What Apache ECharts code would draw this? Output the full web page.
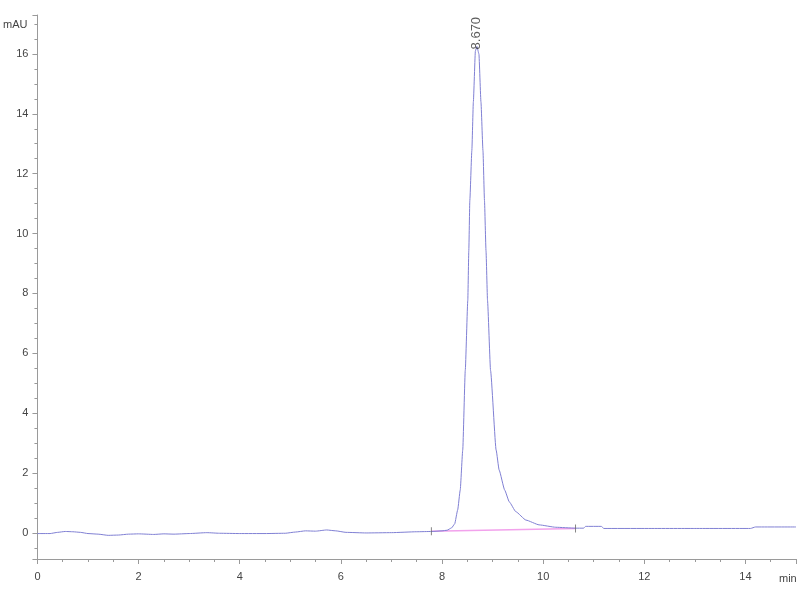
<!DOCTYPE html>
<html>
<head>
<meta charset="utf-8">
<script src="https://cdn.jsdelivr.net/npm/echarts@6/dist/echarts.min.js"></script>
<style>html,body{margin:0;padding:0;background:#fff}#c{width:800px;height:600px}</style>
</head>
<body>
<div id="c"></div>
<script>
// Chromatogram signal (time in min, absorbance in mAU)
var times = [0, 0.25, 0.4, 0.55, 0.7, 0.85, 1.0, 1.2, 1.4, 1.6, 1.8, 2.0, 2.3, 2.5, 2.7, 3.0, 3.35, 3.6, 4.0, 4.5, 4.9, 5.1, 5.3, 5.5, 5.72, 5.9, 6.1, 6.5, 7.0, 7.5, 7.8, 8.0, 8.1,
  8.19, 8.25, 8.31, 8.36, 8.41, 8.46, 8.51, 8.53, 8.55, 8.59, 8.62, 8.66, 8.69,
  8.73, 8.77, 8.81, 8.84, 8.87, 8.90, 8.96, 9.07, 9.13, 9.24, 9.33, 9.46, 9.66, 9.92, 10.25, 10.64,
  10.8, 10.84, 11.15, 11.2, 12.0, 13.0, 14.1, 14.2, 15.0];
var signal = [-0.02, -0.02, 0.02, 0.05, 0.04, 0.02, -0.02, -0.04, -0.08, -0.07, -0.04, -0.03, -0.05, -0.03, -0.04, -0.02, 0.01, -0.01, -0.02, -0.02, -0.01, 0.03, 0.07, 0.06, 0.1, 0.07, 0.02, 0.0, 0.01, 0.04, 0.05, 0.07, 0.09,
  0.17, 0.3, 0.77, 1.43, 2.77, 5.43, 7.77, 9.43, 11.1, 12.77, 14.4, 16.1, 16.25,
  16.0, 14.4, 12.77, 11.1, 9.43, 7.77, 5.43, 2.77, 2.1, 1.43, 1.04, 0.71, 0.43, 0.27, 0.19, 0.16,
  0.16, 0.22, 0.22, 0.15, 0.15, 0.15, 0.15, 0.2, 0.2];
// Integration baseline
var baseTimes = [7.79, 10.64];
var baseValues = [0.06, 0.15];
// Peak annotation
var peakTime = 8.69;
var peakValue = 16.25;
var peakLabel = '8.670';
// Axis ticks
var xTicks = [0, 2, 4, 6, 8, 10, 12, 14];
var yTicks = [0, 2, 4, 6, 8, 10, 12, 14, 16];

var sigData = times.map(function (t, i) { return [t, signal[i]]; });
var baseData = baseTimes.map(function (t, i) { return [t, baseValues[i]]; });

var chart = echarts.init(document.getElementById('c'), null, {renderer: 'canvas'});
var axisGray = '#9a9a9a';
chart.setOption({
  animation: false,
  backgroundColor: '#ffffff',
  grid: {left: 36, right: 4, top: 15, bottom: 41, containLabel: false},
  xAxis: {
    type: 'value', min: 0, max: 15, interval: 2,
    name: 'min', nameLocation: 'end', nameGap: -17,
    nameTextStyle: {color: '#444', fontSize: 11, fontFamily: 'Liberation Sans, Arial', verticalAlign: 'top', padding: [14, 0, 0, 0]},
    axisLine: {show: true, onZero: false, lineStyle: {color: axisGray, width: 1}},
    axisTick: {show: true, length: 5, lineStyle: {color: axisGray}},
    minorTick: {show: true, splitNumber: 4, length: 3, lineStyle: {color: axisGray}},
    splitLine: {show: false},
    axisLabel: {color: '#444', fontSize: 11, fontFamily: 'Liberation Sans, Arial', margin: 12, showMaxLabel: false,
      formatter: function (v) { return xTicks.indexOf(v) >= 0 ? String(v) : ''; }}
  },
  yAxis: {
    type: 'value', min: -0.87, max: 17.3, splitNumber: 9,
    name: 'mAU', nameLocation: 'end', nameGap: -10,
    nameTextStyle: {color: '#444', fontSize: 11, fontFamily: 'Liberation Sans, Arial', align: 'right', verticalAlign: 'middle', padding: [0, 10, 0, 0]},
    axisLine: {show: true, onZero: false, lineStyle: {color: axisGray, width: 1}},
    axisTick: {show: true, length: 5, lineStyle: {color: axisGray}},
    minorTick: {show: true, splitNumber: 4, length: 3, lineStyle: {color: axisGray}},
    splitLine: {show: false},
    axisLabel: {color: '#444', fontSize: 11, fontFamily: 'Liberation Sans, Arial', margin: 9, showMinLabel: false, showMaxLabel: false,
      formatter: function (v) { return yTicks.indexOf(v) >= 0 ? String(v) : ''; }}
  },
  series: [
    {
      type: 'line', data: baseData, symbol: 'none', silent: true,
      lineStyle: {color: '#f2a2ec', width: 1.5}, z: 2
    },
    {
      type: 'line', data: sigData, symbol: 'none', smooth: 0.15, smoothMonotone: 'x', silent: true,
      lineStyle: {color: '#8080d4', width: 1}, z: 3
    },
    {
      type: 'scatter', data: baseData, symbol: 'rect', symbolSize: [1, 8], silent: true,
      itemStyle: {color: '#666'}, z: 4
    },
    {
      type: 'scatter', data: [[peakTime, peakValue]], symbol: 'circle', symbolSize: 2, silent: true, z: 5,
      itemStyle: {color: 'rgba(0,0,0,0)'},
      label: {show: true, position: 'top', distance: -4, rotate: 90, align: 'left', verticalAlign: 'middle',
        formatter: peakLabel, color: '#333', fontSize: 13, fontFamily: 'Liberation Sans, Arial'}
    }
  ]
});
</script>
</body>
</html>
